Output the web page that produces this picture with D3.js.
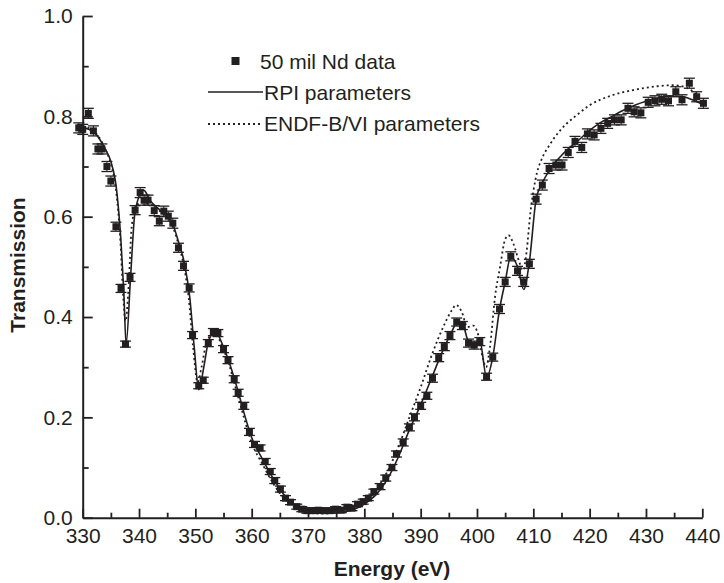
<!DOCTYPE html>
<html>
<head>
<meta charset="utf-8">
<script src="https://cdn.jsdelivr.net/npm/d3@7"></script>
<style>
  body { margin: 0; background: #fff; }
  text { font-family: "Liberation Sans", Arial, sans-serif; fill: #231f20; }
</style>
</head>
<body>
<div id="chart"></div>
<script>
// measured transmission points (energy in eV)
var dataE = [329.3, 330.0, 331.0, 331.9, 332.7, 333.4, 334.3, 335.0, 335.9, 336.8,
    337.6, 338.4, 339.3, 340.2, 340.9, 341.6, 342.7, 343.6, 344.4, 345.2,
    346.0, 347.0, 347.9, 348.9, 349.5, 350.6, 351.4, 352.3, 353.2, 354.0,
    355.0, 355.8, 356.9, 357.6, 358.6, 359.6, 360.5, 361.5, 362.4, 363.3,
    364.1, 365.1, 366.0, 366.9, 368.0, 368.9, 369.8, 370.8, 371.8, 372.8,
    373.9, 374.9, 375.9, 376.9, 377.8, 378.8, 379.8, 380.7, 381.7, 382.8,
    383.8, 384.9, 385.7, 386.9, 388.0, 388.9, 390.0, 391.1, 392.1, 393.2,
    394.2, 395.2, 396.4, 397.4, 398.5, 399.5, 400.5, 401.7, 402.8, 404.0,
    405.0, 406.0, 407.2, 408.3, 409.3, 410.5, 411.6, 412.8, 414.0, 415.1,
    416.2, 417.4, 418.6, 419.6, 420.8, 422.0, 423.2, 424.4, 425.6, 426.8,
    427.9, 429.1, 430.4, 431.6, 432.8, 434.0, 435.3, 436.4, 437.7, 439.0, 440.2];
var dataT = [0.777, 0.774, 0.806, 0.771, 0.735, 0.735, 0.700, 0.671, 0.580, 0.457,
    0.346, 0.479, 0.613, 0.648, 0.633, 0.633, 0.612, 0.591, 0.611, 0.601,
    0.587, 0.538, 0.502, 0.458, 0.364, 0.263, 0.274, 0.348, 0.370, 0.368,
    0.336, 0.314, 0.276, 0.249, 0.223, 0.171, 0.146, 0.139, 0.112, 0.092,
    0.074, 0.057, 0.039, 0.031, 0.022, 0.017, 0.014, 0.014, 0.015, 0.014,
    0.014, 0.017, 0.015, 0.021, 0.019, 0.027, 0.032, 0.039, 0.052, 0.062,
    0.079, 0.100, 0.127, 0.150, 0.180, 0.200, 0.223, 0.243, 0.278, 0.319,
    0.341, 0.363, 0.390, 0.383, 0.348, 0.344, 0.351, 0.281, 0.320, 0.416,
    0.470, 0.521, 0.492, 0.470, 0.506, 0.635, 0.663, 0.696, 0.703, 0.703,
    0.728, 0.750, 0.738, 0.765, 0.763, 0.776, 0.786, 0.793, 0.793, 0.816,
    0.809, 0.807, 0.828, 0.831, 0.834, 0.831, 0.849, 0.833, 0.866, 0.839, 0.826];
var dataErr = [0.010, 0.010, 0.010, 0.010, 0.010, 0.010, 0.010, 0.010, 0.009, 0.008,
    0.006, 0.008, 0.009, 0.010, 0.010, 0.010, 0.010, 0.009, 0.010, 0.010,
    0.010, 0.009, 0.009, 0.008, 0.007, 0.006, 0.006, 0.007, 0.007, 0.007,
    0.007, 0.007, 0.007, 0.007, 0.007, 0.007, 0.006, 0.006, 0.006, 0.006,
    0.006, 0.006, 0.005, 0.005, 0.005, 0.005, 0.005, 0.005, 0.005, 0.005,
    0.005, 0.005, 0.005, 0.005, 0.005, 0.005, 0.005, 0.005, 0.005, 0.006,
    0.006, 0.006, 0.006, 0.007, 0.007, 0.007, 0.007, 0.007, 0.008, 0.008,
    0.008, 0.008, 0.008, 0.008, 0.008, 0.008, 0.008, 0.007, 0.008, 0.009,
    0.009, 0.009, 0.009, 0.009, 0.009, 0.010, 0.010, 0.010, 0.010, 0.010,
    0.010, 0.010, 0.010, 0.010, 0.010, 0.010, 0.010, 0.010, 0.010, 0.010,
    0.010, 0.010, 0.010, 0.010, 0.010, 0.010, 0.010, 0.010, 0.010, 0.010, 0.010];

// RPI fit (solid)
var rpiE = [330, 332, 334, 335, 336, 336.8, 337.3, 337.7, 338.5, 339.3,
    340.8, 342, 344, 346, 347, 348, 349, 349.8, 350.6, 351.5,
    352.3, 353.5, 355, 356, 357, 358, 359, 360, 362, 364,
    366, 368, 370, 372, 374, 376, 378, 380, 382, 384,
    386, 388, 390, 392, 394, 395.5, 396.6, 397.5, 398.5, 399.5,
    400.5, 401.7, 402.8, 404, 405, 406, 407.2, 408.3, 409.3, 410.5,
    411.5, 413, 415, 418, 420, 422, 424, 426, 428, 430,
    432, 434, 436, 438, 440];
var rpiT = [0.778, 0.768, 0.735, 0.710, 0.655, 0.550, 0.450, 0.346, 0.480, 0.610,
    0.653, 0.632, 0.610, 0.585, 0.550, 0.510, 0.440, 0.340, 0.255, 0.300,
    0.350, 0.371, 0.340, 0.310, 0.275, 0.235, 0.195, 0.160, 0.115, 0.075,
    0.042, 0.022, 0.012, 0.009, 0.009, 0.011, 0.016, 0.027, 0.045, 0.075,
    0.120, 0.175, 0.225, 0.280, 0.335, 0.370, 0.392, 0.385, 0.350, 0.343,
    0.352, 0.280, 0.320, 0.415, 0.470, 0.520, 0.500, 0.455, 0.510, 0.635,
    0.665, 0.695, 0.722, 0.752, 0.772, 0.788, 0.800, 0.812, 0.822, 0.830,
    0.836, 0.840, 0.840, 0.834, 0.824];

// ENDF-B/VI (dotted)
var endfE = [330, 332, 334, 335, 336, 336.7, 337.2, 337.6, 338.1, 338.7,
    339.5, 340.5, 342, 344, 346, 347, 348, 348.8, 349.6, 350.4,
    351.1, 352, 353.2, 354, 355, 356, 357, 358, 359, 360,
    362, 364, 366, 368, 370, 372, 374, 376, 378, 380,
    382, 384, 386, 388, 390, 392, 394, 395.5, 396.3, 397.3,
    398.3, 399.3, 400.2, 401, 401.6, 402.3, 403.2, 404.1, 405, 405.6,
    406.5, 407.5, 408.2, 408.8, 409.5, 410, 410.7, 411.5, 413, 415,
    418, 420, 424, 428, 432, 435, 437, 438.5, 440];
var endfT = [0.780, 0.770, 0.735, 0.705, 0.645, 0.550, 0.440, 0.392, 0.450, 0.580,
    0.622, 0.628, 0.625, 0.608, 0.580, 0.545, 0.500, 0.440, 0.340, 0.270,
    0.300, 0.350, 0.366, 0.360, 0.335, 0.305, 0.265, 0.225, 0.185, 0.150,
    0.105, 0.065, 0.035, 0.018, 0.010, 0.008, 0.009, 0.012, 0.020, 0.033,
    0.055, 0.090, 0.140, 0.200, 0.260, 0.325, 0.380, 0.413, 0.424, 0.410,
    0.380, 0.383, 0.365, 0.320, 0.300, 0.340, 0.440, 0.500, 0.555, 0.563,
    0.545, 0.510, 0.493, 0.530, 0.610, 0.650, 0.690, 0.715, 0.745, 0.775,
    0.805, 0.822, 0.842, 0.853, 0.860, 0.862, 0.858, 0.848, 0.830];

var xMajor = [330, 340, 350, 360, 370, 380, 390, 400, 410, 420, 430, 440];
var yMajor = [0.0, 0.2, 0.4, 0.6, 0.8, 1.0];

var legendLabels = ["50 mil Nd data", "RPI parameters", "ENDF-B/VI parameters"];

var svgWidth = 724, svgHeight = 583;
var svg = d3.select("#chart").append("svg")
    .attr("width", svgWidth)
    .attr("height", svgHeight);

var x = d3.scaleLinear().domain([330, 440]).range([82.7, 702.3]);
var y = d3.scaleLinear().domain([0, 1]).range([517.7, 16]);

var points = dataE.map(function(e, i) { return { e: e, t: dataT[i], err: dataErr[i] }; });
var rpi = rpiE.map(function(e, i) { return { e: e, t: rpiT[i] }; });
var endf = endfE.map(function(e, i) { return { e: e, t: endfT[i] }; });

//minor ticks first, then the labelled axes on top
svg.append("g")
    .attr("transform", "translate(0," + y(0) + ")")
    .call(d3.axisBottom(x).tickValues(d3.range(335, 440, 10)).tickSize(-5).tickFormat(""))
    .call(function(g) { g.select(".domain").remove(); });
svg.append("g")
    .attr("transform", "translate(" + x(330) + ",0)")
    .call(d3.axisLeft(y).tickValues([0.1, 0.3, 0.5, 0.7, 0.9]).tickSize(-6).tickFormat(""))
    .call(function(g) { g.select(".domain").remove(); });

var xAxis = svg.append("g")
    .attr("transform", "translate(0," + y(0) + ")")
    .call(d3.axisBottom(x).tickValues(xMajor).tickSizeInner(-9).tickSizeOuter(0).tickPadding(10).tickFormat(d3.format("d")));
var yAxis = svg.append("g")
    .attr("transform", "translate(" + x(330) + ",0)")
    .call(d3.axisLeft(y).tickValues(yMajor).tickSizeInner(-10).tickSizeOuter(0).tickPadding(10).tickFormat(d3.format(".1f")));

svg.selectAll(".domain").attr("stroke", "#231f20").attr("stroke-width", 2);
svg.selectAll(".tick line").attr("stroke", "#231f20").attr("stroke-width", 1.8);
svg.selectAll(".tick text").attr("font-size", 21).attr("font-family", "Liberation Sans, Arial, sans-serif").attr("fill", "#231f20");

// axis titles
svg.append("text")
    .attr("x", 392)
    .attr("y", 576)
    .attr("text-anchor", "middle")
    .attr("font-size", 21)
    .attr("font-weight", "bold")
    .text("Energy (eV)");
svg.append("text")
    .attr("transform", "translate(25,265) rotate(-90)")
    .attr("text-anchor", "middle")
    .attr("font-size", 21)
    .attr("font-weight", "bold")
    .text("Transmission");

// model curves
var line = d3.line()
    .x(function(d) { return x(d.e); })
    .y(function(d) { return y(d.t); })
    .curve(d3.curveMonotoneX);

svg.append("path")
    .datum(endf)
    .attr("fill", "none")
    .attr("stroke", "#231f20")
    .attr("stroke-width", 1.8)
    .attr("stroke-dasharray", "2,3")
    .attr("d", line);

svg.append("path")
    .datum(rpi)
    .attr("fill", "none")
    .attr("stroke", "#231f20")
    .attr("stroke-width", 1.6)
    .attr("d", line);

// error bars
var bars = svg.append("g").selectAll("g")
    .data(points)
    .join("g");
bars.append("line")
    .attr("x1", function(d) { return x(d.e); })
    .attr("x2", function(d) { return x(d.e); })
    .attr("y1", function(d) { return y(d.t - d.err); })
    .attr("y2", function(d) { return y(d.t + d.err); })
    .attr("stroke", "#231f20").attr("stroke-width", 1);
bars.selectAll(".cap")
    .data(function(d) { return [{ e: d.e, v: d.t - d.err }, { e: d.e, v: d.t + d.err }]; })
    .join("line")
    .attr("class", "cap")
    .attr("x1", function(d) { return x(d.e) - 5.5; })
    .attr("x2", function(d) { return x(d.e) + 5.5; })
    .attr("y1", function(d) { return y(d.v); })
    .attr("y2", function(d) { return y(d.v); })
    .attr("stroke", "#231f20").attr("stroke-width", 1.3);

// data squares
svg.append("g").selectAll("rect")
    .data(points)
    .join("rect")
    .attr("x", function(d) { return x(d.e) - 3.5; })
    .attr("y", function(d) { return y(d.t) - 3.5; })
    .attr("width", 7)
    .attr("height", 7)
    .attr("fill", "#231f20");

// legend
var legend = svg.append("g");
legend.append("rect")
    .attr("x", 231.5).attr("y", 57).attr("width", 8).attr("height", 8)
    .attr("fill", "#231f20");
legend.append("line")
    .attr("x1", 208).attr("x2", 263).attr("y1", 92).attr("y2", 92)
    .attr("stroke", "#231f20").attr("stroke-width", 1.6);
legend.append("line")
    .attr("x1", 208).attr("x2", 263).attr("y1", 124).attr("y2", 124)
    .attr("stroke", "#231f20").attr("stroke-width", 1.8).attr("stroke-dasharray", "2,3");
legend.selectAll("text")
    .data(legendLabels)
    .join("text")
    .attr("x", function(d, i) { return i === 0 ? 260 : 264; })
    .attr("y", function(d, i) { return [69, 100, 131][i]; })
    .attr("font-size", 21)
    .text(function(d) { return d; });
</script>
</body>
</html>
